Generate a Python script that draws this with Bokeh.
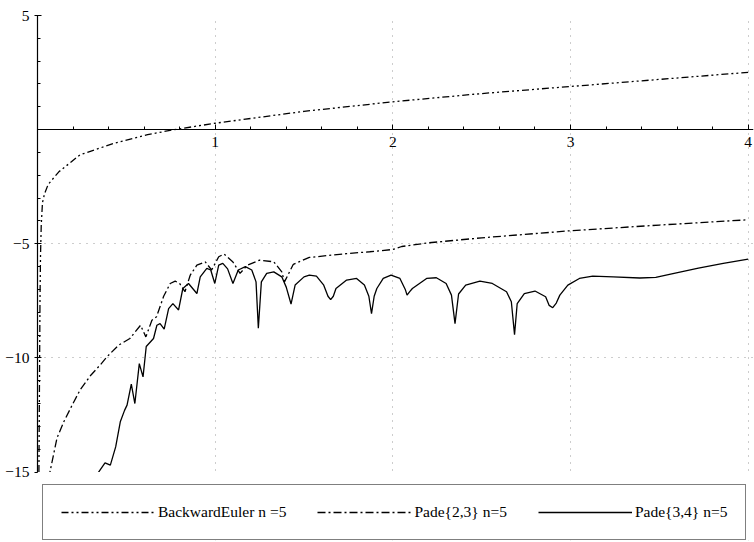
from bokeh.plotting import figure
from bokeh.models import FixedTicker, Legend, LegendItem, Range1d, BoxAnnotation
from bokeh.embed import file_html
from bokeh.resources import INLINE

# ---------------- data ----------------
be_x = [0.008, 0.010, 0.012, 0.014, 0.017, 0.021, 0.028, 0.04, 0.06, 0.12, 0.24, 0.43, 0.62,
        0.77, 1.0, 1.5, 2.0, 2.5, 3.0, 3.5, 4.0]
be_y = [-15.0, -12.5, -10.0, -7.5, -5.5, -4.2, -3.2, -2.8, -2.4, -1.85, -1.1, -0.6, -0.22,
        0.0, 0.28, 0.8, 1.22, 1.58, 1.89, 2.2, 2.51]

p23_x = [0.065, 0.07, 0.11, 0.148, 0.195, 0.24, 0.30, 0.354, 0.39, 0.457, 0.52, 0.58, 0.61,
         0.644, 0.67, 0.71, 0.747, 0.775, 0.80, 0.83, 0.86, 0.897, 0.944, 0.98, 1.02, 1.05,
         1.10, 1.14, 1.18, 1.25, 1.33, 1.375, 1.39, 1.44, 1.53, 1.74, 1.87, 2.0, 2.05, 2.2,
         2.5, 3.0, 3.5, 4.0]
p23_y = [-15.3, -15.0, -13.5, -12.8, -12.07, -11.4, -10.76, -10.3, -9.96, -9.44, -9.15, -8.57,
         -9.08, -8.35, -8.2, -7.3, -6.74, -6.64, -6.74, -7.1, -6.37, -5.94, -5.79, -6.15, -5.57,
         -5.45, -5.8, -6.3, -5.94, -5.72, -5.79, -6.23, -6.67, -5.9, -5.6, -5.43, -5.35, -5.25,
         -5.12, -4.96, -4.74, -4.43, -4.18, -3.95]

p34_x = [0.33, 0.344, 0.38, 0.41, 0.44, 0.466, 0.49, 0.504, 0.528, 0.548, 0.573, 0.594, 0.612,
         0.653, 0.672, 0.69, 0.713, 0.738, 0.762, 0.794, 0.818, 0.85, 0.897, 0.916, 0.953,
         0.975, 0.998, 1.02, 1.043, 1.07, 1.10, 1.13, 1.17, 1.206, 1.23, 1.243, 1.26, 1.29,
         1.33, 1.375, 1.40, 1.427, 1.45, 1.50, 1.53, 1.57, 1.61, 1.635, 1.65, 1.665, 1.68,
         1.74, 1.796, 1.84, 1.865, 1.88, 1.895, 1.91, 1.946, 1.99, 2.04, 2.07, 2.08, 2.095,
         2.11, 2.19, 2.245, 2.30, 2.33, 2.35, 2.37, 2.41, 2.49, 2.56, 2.64, 2.667, 2.685,
         2.70, 2.74, 2.80, 2.86, 2.88, 2.90, 2.92, 2.94, 2.985, 3.05, 3.125, 3.24, 3.39,
         3.48, 3.57, 3.72, 3.86, 4.0]
p34_y = [-15.3, -15.0, -14.6, -14.7, -13.9, -12.8, -12.3, -12.07, -11.15, -12.0, -10.25, -10.83,
         -9.5, -9.15, -8.57, -8.5, -8.74, -7.84, -7.62, -7.9, -6.96, -6.74, -7.18, -6.45,
         -6.08, -6.15, -6.74, -5.94, -5.86, -6.1, -6.74, -6.15, -6.0, -6.15, -6.67, -8.7,
         -6.67, -6.3, -6.23, -6.45, -6.9, -7.64, -6.81, -6.45, -6.37, -6.42, -6.8, -7.3,
         -7.45, -7.3, -6.96, -6.59, -6.52, -6.81, -7.3, -8.06, -7.3, -6.96, -6.52, -6.37,
         -6.52, -7.0, -7.25, -7.1, -6.96, -6.52, -6.49, -6.74, -7.25, -8.5, -7.2, -6.81,
         -6.64, -6.74, -7.1, -7.54, -8.98, -7.62, -7.18, -7.07, -7.32, -7.7, -7.8, -7.6,
         -7.25, -6.81, -6.52, -6.42, -6.45, -6.5, -6.47, -6.32, -6.07, -5.86, -5.67]

x_major = [1, 2, 3, 4]
x_minor = [0, 0.2, 0.4, 0.6, 0.8, 1.0, 1.2, 1.4, 1.6, 1.8, 2.0, 2.2, 2.4, 2.6, 2.8, 3.0,
           3.2, 3.4, 3.6, 3.8, 4.0]
y_major = [-15, -10, -5, 5]
y_minor = [-15, -14, -13, -12, -11, -10, -9, -8, -7, -6, -5, -4, -3, -2, -1, 0,
           1, 2, 3, 4, 5]
y_labels = {-15: "\u221215", -10: "\u221210", -5: "\u22125", 5: "5"}
y_lo, y_hi = -15, 5          # plotted value window

labels = ["BackwardEuler n =5", "Pade{2,3} n=5", "Pade{3,4} n=5"]

# ---------------- figure ----------------
FONT = "Liberation Serif, Times New Roman, serif"

# the frame reaches below -15 so the legend box can sit inside it
p = figure(width=754, height=542,
           x_range=Range1d(0, 4.03), y_range=Range1d(-18.0, 5),
           output_backend="svg", toolbar_location=None,
           min_border_left=37, min_border_right=1, min_border_top=15,
           min_border_bottom=2)
p.outline_line_color = None
p.background_fill_color = "white"
p.border_fill_color = "white"

for ax in (p.xaxis, p.yaxis):
    ax.axis_line_color = "black"
    ax.axis_line_width = 1.2
    ax.major_tick_line_color = "black"
    ax.minor_tick_line_color = "black"
    ax.major_label_text_font = FONT
    ax.major_label_text_font_size = "15.5px"
    ax.major_label_text_color = "black"

# x-axis runs along y = 0
p.xaxis.fixed_location = 0
p.xaxis.ticker = FixedTicker(ticks=x_major, minor_ticks=x_minor)
p.xaxis.major_tick_in = 5
p.xaxis.major_tick_out = 0
p.xaxis.minor_tick_in = 3
p.xaxis.minor_tick_out = 0
p.xaxis.major_label_standoff = 7

p.yaxis.bounds = (y_lo, y_hi)
p.yaxis.ticker = FixedTicker(ticks=y_major, minor_ticks=y_minor)
p.yaxis.major_label_overrides = y_labels
p.yaxis.major_tick_in = 4
p.yaxis.major_tick_out = 3
p.yaxis.minor_tick_in = 3
p.yaxis.minor_tick_out = 0
p.yaxis.major_label_standoff = 5

# grid
p.xgrid.ticker = FixedTicker(ticks=x_major)
p.ygrid.ticker = FixedTicker(ticks=y_major)
for g in (p.xgrid, p.ygrid):
    g.grid_line_color = "#9a9a9a"
    g.grid_line_dash = "1 6"
    g.grid_line_width = 1

# curves
r_be = p.line(be_x, be_y, line_color="black", line_width=1.3, line_dash="7 3 2 3 2 3")
r_23 = p.line(p23_x, p23_y, line_color="black", line_width=1.3, line_dash="8 3 2 3")
r_34 = p.line(p34_x, p34_y, line_color="black", line_width=1.3)

# blank out everything below the plotted window (under the legend)
p.add_layout(BoxAnnotation(top=y_lo, fill_color="white", fill_alpha=1.0,
                           line_color=None, level="annotation"))

legend = Legend(items=[LegendItem(label=labels[0], renderers=[r_be]),
                       LegendItem(label=labels[1], renderers=[r_23]),
                       LegendItem(label=labels[2], renderers=[r_34])],
                location=(5, 0), orientation="horizontal",
                glyph_width=94, glyph_height=18, label_standoff=3, spacing=31,
                padding=18, label_height=18, margin=0,
                label_text_font=FONT, label_text_font_size="15.5px", label_text_color="black",
                border_line_color="black", border_line_width=1,
                background_fill_color="white", background_fill_alpha=1)
p.add_layout(legend, "center")

open("out.html", "w").write(file_html(p, INLINE))
